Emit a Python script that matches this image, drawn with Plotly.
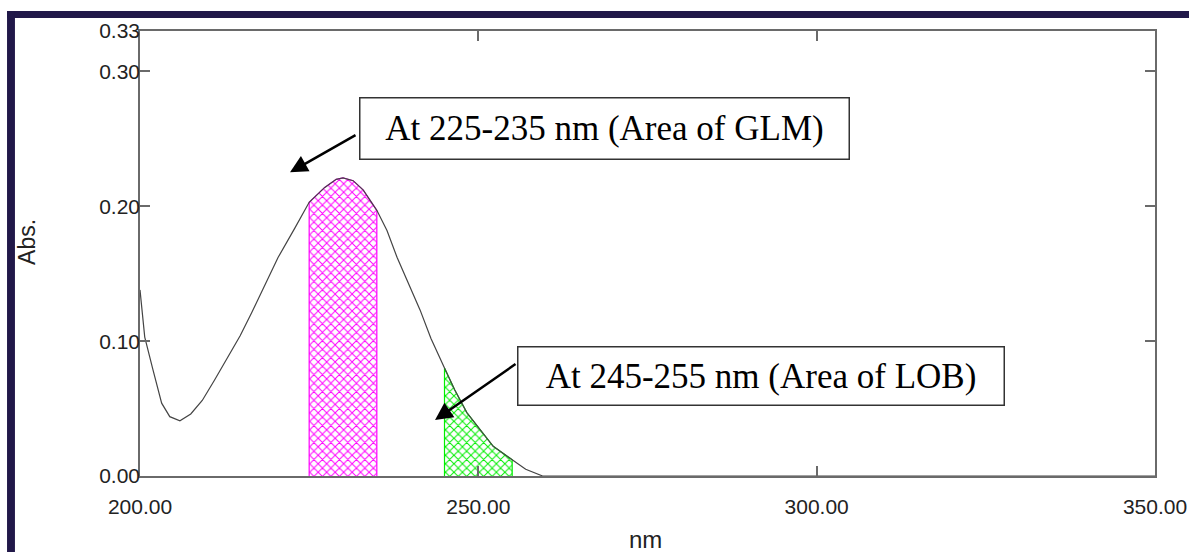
import numpy as np
import plotly.graph_objects as go

# ---- data ----
wavelength_nm = [200.0, 200.7, 201.9, 203.2, 204.4, 205.9, 207.5, 209.2, 211.0, 213.0,
                 214.8, 216.5, 218.5, 220.4, 222.9, 225.0, 227.3, 229.0, 230.0, 231.5,
                 233.0, 235.0, 236.5, 238.0, 241.4, 243.0, 245.0, 246.5, 248.3, 250.0,
                 252.2, 255.0, 257.0, 259.5, 265.0, 300.0, 350.0]
absorbance = [0.138, 0.103, 0.079, 0.054, 0.044, 0.041, 0.046, 0.056, 0.071, 0.088,
              0.104, 0.121, 0.142, 0.162, 0.184, 0.203, 0.214, 0.220, 0.221, 0.219,
              0.212, 0.197, 0.182, 0.162, 0.123, 0.102, 0.080, 0.064, 0.047, 0.036,
              0.022, 0.012, 0.005, 0.000, 0.000, 0.000, 0.000]

glm_band = [225, 235]
lob_band = [245, 255]

y_tickvals = [0.00, 0.10, 0.20, 0.30, 0.33]
y_ticktext = ["0.00", "0.10", "0.20", "0.30", "0.33"]
x_tickvals = [200, 250, 300, 350]
x_ticktext = ["200.00", "250.00", "300.00", "350.00"]

glm_label = "At 225-235 nm (Area of GLM)"
lob_label = "At 245-255 nm (Area of LOB)"
x_title = "nm"
y_title = "Abs."

wl = np.array(wavelength_nm)
ab = np.array(absorbance)


def band_polygon(band):
    m = (wl >= band[0]) & (wl <= band[1])
    px = np.concatenate([[band[0]], wl[m], [band[1]]])
    py = np.concatenate([[0.0], ab[m], [0.0]])
    return px, py


SANS = "Liberation Sans, Arial, sans-serif"
SERIF = "Liberation Serif, Times New Roman, serif"

fig = go.Figure()

for band, col in ((glm_band, "#ff00ff"), (lob_band, "#00ee00")):
    bx, by = band_polygon(band)
    fig.add_trace(go.Scatter(
        x=bx, y=by, mode="lines", fill="toself",
        line=dict(color=col, width=1.2),
        fillcolor="white",
        fillpattern=dict(shape="x", fgcolor=col, fgopacity=1, size=6,
                         solidity=0.3, fillmode="overlay"),
        hoverinfo="skip", showlegend=False))

fig.add_trace(go.Scatter(
    x=wl, y=ab, mode="lines",
    line=dict(color="#444444", width=1.2),
    showlegend=False))

axis_common = dict(
    showgrid=False, zeroline=False, automargin=False,
    showline=True, linecolor="#6a6a6a", linewidth=1.5,
    mirror="ticks", ticks="inside", tickcolor="#6a6a6a", tickwidth=1.5, ticklen=10,
    tickfont=dict(family=SANS, size=21, color="#222222"),
)

fig.update_xaxes(range=[200, 350], tickmode="array", tickvals=x_tickvals,
                 ticktext=x_ticktext, ticklabelstandoff=11, **axis_common)
fig.update_yaxes(range=[0, 0.33], tickmode="array", tickvals=y_tickvals,
                 ticktext=y_ticktext, ticklabelstandoff=-6, **axis_common)

# axis titles
fig.add_annotation(xref="paper", yref="paper", x=0.4985, y=-0.1438,
                   xanchor="center", yanchor="middle", text=x_title, showarrow=False,
                   font=dict(family=SANS, size=24, color="#222222"))
fig.add_annotation(xref="paper", yref="paper", x=-0.1113, y=0.526,
                   xanchor="center", yanchor="middle", text=y_title, showarrow=False,
                   textangle=-90, font=dict(family=SANS, size=23, color="#222222"))

# annotation boxes
fig.add_annotation(
    xref="paper", yref="paper", x=0.4581, y=0.7820, xanchor="center", yanchor="middle",
    text=glm_label, showarrow=False, font=dict(family=SERIF, size=35, color="black"),
    bgcolor="white", bordercolor="#333333", borderwidth=1.5, borderpad=0,
    width=488, height=60)
fig.add_annotation(
    xref="paper", yref="paper", x=0.6118, y=0.2258, xanchor="center", yanchor="middle",
    text=lob_label, showarrow=False, font=dict(family=SERIF, size=35, color="black"),
    bgcolor="white", bordercolor="#333333", borderwidth=1.5, borderpad=0,
    width=485, height=57)

# arrows
fig.add_annotation(x=222.17, y=0.2252, xref="x", yref="y", text="", showarrow=True,
                   ax=67, ay=-38, arrowhead=2, arrowsize=1.4, arrowwidth=2.5,
                   arrowcolor="black")
fig.add_annotation(x=243.6, y=0.0415, xref="x", yref="y", text="", showarrow=True,
                   ax=82, ay=-57, arrowhead=2, arrowsize=1.4, arrowwidth=2.5,
                   arrowcolor="black")

# outer dark frame (top and left bars)
frame_color = "#211849"
fig.add_shape(type="rect", xref="paper", yref="paper", x0=-0.131, x1=1.06,
              y0=1.0292, y1=1.0449, fillcolor=frame_color, line=dict(width=0), layer="above")
fig.add_shape(type="rect", xref="paper", yref="paper", x0=-0.131, x1=-0.1232,
              y0=-0.2, y1=1.0449, fillcolor=frame_color, line=dict(width=0), layer="above")

fig.update_layout(
    width=1189, height=552,
    margin=dict(l=140, r=34, t=31, b=76),
    plot_bgcolor="white", paper_bgcolor="white",
    showlegend=False,
)

# remove the default 8px page margin so the figure fills the window exactly
fig.write_html("out.html", config={"displayModeBar": False},
               post_script="document.body.style.margin='0';document.body.style.overflow='hidden';")
